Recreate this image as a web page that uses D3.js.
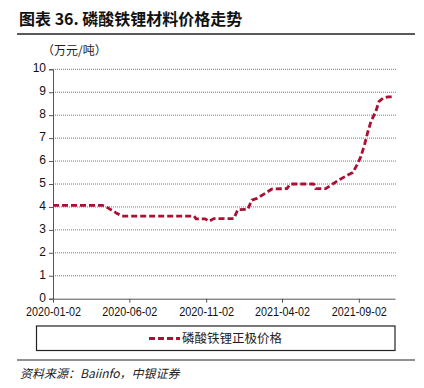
<!DOCTYPE html>
<html>
<head>
<meta charset="utf-8">
<script src="https://cdn.jsdelivr.net/npm/d3@7"></script>
<style>
  body { margin: 0; background: #fff; }
  svg { display: block; font-family: 'Liberation Sans', Arial, sans-serif; }
</style>
</head>
<body>
<div id="chart"></div>
<script>
// Data
const dates = [
    '2020-01-02', '2020-04-09', '2020-04-21', '2020-05-06', '2020-05-18', '2020-10-09',
    '2020-10-13', '2020-10-31', '2020-11-08', '2020-11-17', '2020-12-27', '2021-01-04',
    '2021-01-24', '2021-02-01', '2021-02-11', '2021-02-25', '2021-03-13', '2021-04-12',
    '2021-04-18', '2021-06-04', '2021-06-08', '2021-06-28', '2021-07-12', '2021-07-26',
    '2021-08-11', '2021-08-21', '2021-08-31', '2021-09-06', '2021-09-14', '2021-09-20',
    '2021-09-26', '2021-10-06', '2021-10-12', '2021-10-20', '2021-10-30', '2021-11-11'
];
const prices = [
    4.07, 4.07, 3.95, 3.75, 3.6, 3.6,
    3.48, 3.48, 3.38, 3.49, 3.49, 3.88,
    3.9, 4.3, 4.37, 4.56, 4.78, 4.8,
    5.0, 5.0, 4.8, 4.8, 5.0, 5.2,
    5.39, 5.5, 5.9, 6.19, 6.77, 7.28,
    7.72, 8.18, 8.59, 8.74, 8.8, 8.8
];
const xTicks = ['2020-01-02', '2020-06-02', '2020-11-02', '2021-04-02', '2021-09-02'];
const yTicks = [0, 1, 2, 3, 4, 5, 6, 7, 8, 9, 10];
const seriesName = '磷酸铁锂正极价格';

const parse = d3.timeParse('%Y-%m-%d');
const data = dates.map((d, i) => ({ date: parse(d), value: prices[i] }));

const width = 424;
const height = 388;
const marginLeft = 53;
const marginRight = 32;
const marginTop = 69.3;
const plotBottom = 298.7;
const lineColor = '#AA0F35';

const svg = d3.select('#chart').append('svg')
    .attr('width', width)
    .attr('height', height)
    .attr('viewBox', [0, 0, width, height]);

// Title and rule
svg.append('text')
    .attr('x', 19)
    .attr('y', 25)
    .attr('font-size', 16)
    .attr('font-weight', 'bold')
    .attr('font-family', "'Noto Sans CJK SC', sans-serif")
    .attr('fill', '#111')
    .text('图表 36. 磷酸铁锂材料价格走势');

svg.append('line')
    .attr('x1', 17).attr('x2', 415)
    .attr('y1', 34).attr('y2', 34)
    .attr('stroke', '#222')
    .attr('stroke-width', 1.3);

const x = d3.scaleTime()
    .domain([parse('2020-01-02'), parse('2021-11-13')])
    .range([marginLeft, width - marginRight + 3]);

const y = d3.scaleLinear()
    .domain([0, 10])
    .range([plotBottom, marginTop]);

// Gridlines
svg.append('g')
    .selectAll('line')
    .data(yTicks.filter(v => v > 0))
    .join('line')
    .attr('x1', marginLeft)
    .attr('x2', x.range()[1] + 1)
    .attr('y1', d => y(d))
    .attr('y2', d => y(d))
    .attr('stroke', '#777')
    .attr('stroke-width', 1)
    .attr('stroke-dasharray', '1,1');

// Y axis
svg.append('g')
    .attr('transform', `translate(${marginLeft},0)`)
    .call(d3.axisLeft(y).tickValues(yTicks).tickSize(4).tickPadding(3))
    .call(g => g.select('.domain').attr('stroke', '#555'))
    .call(g => g.selectAll('.tick line').attr('stroke', '#555'))
    .call(g => g.selectAll('.tick text')
        .attr('font-size', 12)
        .attr('fill', '#111')
        .attr('dy', '0.22em')
        .attr('font-family', "'Liberation Sans', Arial, sans-serif"));

// X axis
svg.append('g')
    .attr('transform', `translate(0,${plotBottom})`)
    .call(d3.axisBottom(x)
        .tickValues(xTicks.map(parse))
        .tickFormat(d3.timeFormat('%Y-%m-%d'))
        .tickSize(4)
        .tickSizeOuter(0)
        .tickPadding(5))
    .call(g => g.select('.domain').attr('stroke', '#555'))
    .call(g => g.selectAll('.tick line').attr('stroke', '#555'))
    .call(g => g.selectAll('.tick text')
        .attr('font-size', 12)
        .attr('fill', '#111')
        .attr('textLength', 55)
        .attr('lengthAdjust', 'spacingAndGlyphs')
        .attr('font-family', "'Liberation Sans', Arial, sans-serif"));

// Unit label
svg.append('text')
    .attr('x', 42)
    .attr('y', 55)
    .attr('font-size', 12)
    .attr('font-family', "'Noto Sans CJK SC', sans-serif")
    .attr('fill', '#222')
    .text('（万元/吨）');

// Line
const line = d3.line()
    .x(d => x(d.date))
    .y(d => y(d.value));

svg.append('path')
    .datum(data)
    .attr('fill', 'none')
    .attr('stroke', lineColor)
    .attr('stroke-width', 2.8)
    .attr('stroke-dasharray', '6,3')
    .attr('stroke-linejoin', 'round')
    .attr('d', line);

// Legend box
svg.append('rect')
    .attr('x', 36.5)
    .attr('y', 326)
    .attr('width', 358.5)
    .attr('height', 24.5)
    .attr('fill', 'none')
    .attr('stroke', '#222')
    .attr('stroke-width', 1.2);

svg.append('line')
    .attr('x1', 149).attr('x2', 180)
    .attr('y1', 338.5).attr('y2', 338.5)
    .attr('stroke', lineColor)
    .attr('stroke-width', 2.8)
    .attr('stroke-dasharray', '6,3');

svg.append('text')
    .attr('x', 182)
    .attr('y', 343)
    .attr('font-size', 12.5)
    .attr('font-family', "'Noto Sans CJK SC', sans-serif")
    .attr('fill', '#222')
    .text(seriesName);

// Bottom rule and source
svg.append('line')
    .attr('x1', 17).attr('x2', 415)
    .attr('y1', 360).attr('y2', 360)
    .attr('stroke', '#222')
    .attr('stroke-width', 1);

svg.append('text')
    .attr('x', 20)
    .attr('y', 378)
    .attr('font-size', 12)
    .attr('font-style', 'italic')
    .attr('font-family', "'Noto Sans CJK SC', sans-serif")
    .attr('fill', '#222')
    .text('资料来源：Baiinfo，中银证券');
</script>
</body>
</html>
